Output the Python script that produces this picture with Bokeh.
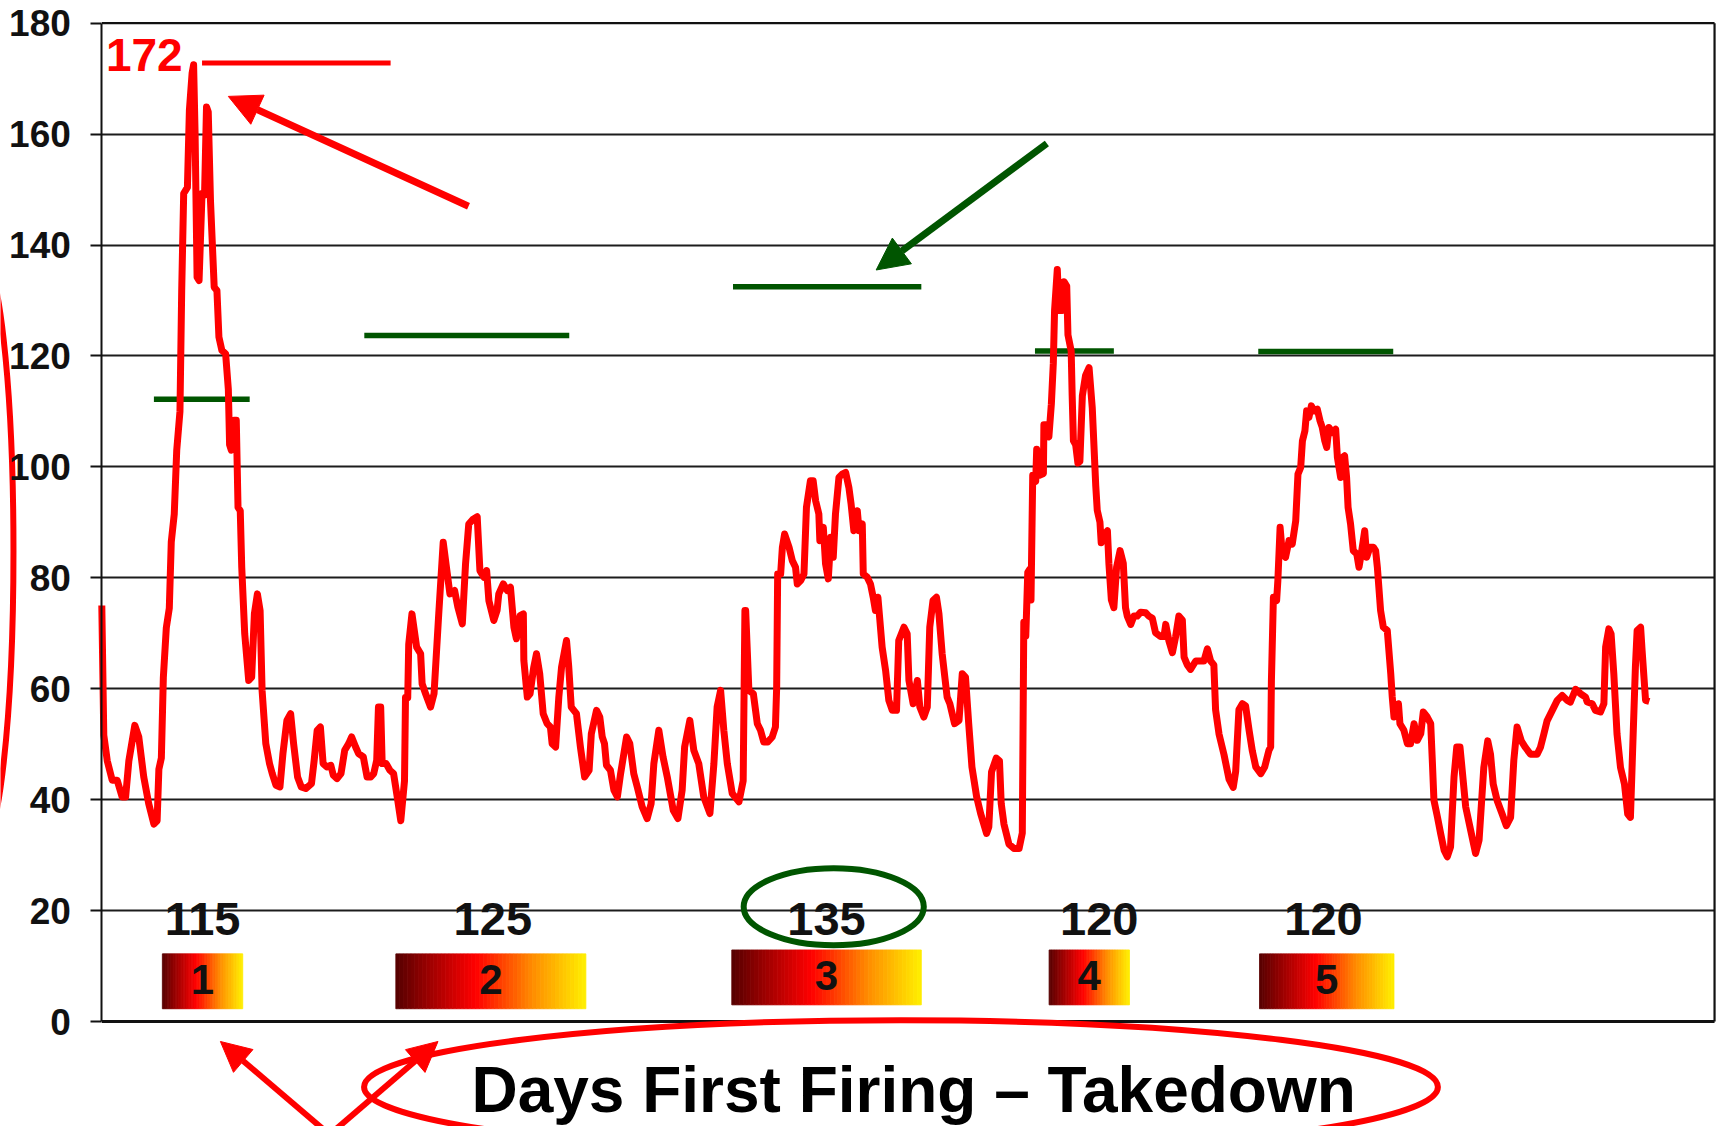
import numpy as np
from bokeh.plotting import figure
from bokeh.models import Range1d, FixedTicker, LinearAxis, Grid, Arrow, NormalHead
from bokeh.core.properties import value
from bokeh.embed import file_html
from bokeh.resources import INLINE

# ---------------- data ----------------
day = [0.0, 0.8, 2.2, 4.2, 6.2, 8.2, 9.6, 10.9, 13.3, 14.9, 16.9, 18.9, 21.0, 22.3, 23.0, 24.0,
       24.8, 26.0, 27.2, 28.0, 29.2, 30.2, 31.5, 32.2, 33.0, 34.5, 35.3, 36.4, 37.0, 37.6, 38.4,
       39.2, 40.4, 41.4, 42.2, 42.9, 43.8, 45.3, 46.4, 47.2, 48.4, 49.9, 51.0, 51.5, 52.2, 53.3,
       54.2, 54.9, 55.8, 56.4, 57.6, 59.2, 60.4, 61.5, 62.7, 63.8, 64.6, 66.1, 67.6, 68.7, 70.2,
       71.8, 73.0, 74.6, 76.1, 77.3, 78.9, 80.4, 82.2, 84.5, 85.6, 86.8, 88.1, 89.2, 90.7, 92.3,
       93.3, 94.8, 96.4, 97.9, 99.5, 100.7, 102.3, 103.5, 105.4, 106.9, 108.4, 109.6, 110.8, 111.5,
       112.4, 113.0, 114.6, 116.1, 117.6, 119.1, 120.5, 122.0, 122.4, 123.3, 123.7, 125.0, 126.9,
       128.5, 129.1, 130.5, 132.5, 133.9, 135.8, 137.6, 138.9, 140.3, 142.2, 143.5, 145.3, 146.6,
       147.9, 149.5, 151.3, 152.4, 154.0, 155.1, 156.0, 158.0, 159.3, 160.0, 161.8, 163.4, 164.7,
       166.1, 167.1, 168.6, 169.9, 170.1, 171.5, 172.6, 174.1, 175.2, 176.5, 177.9, 179.5, 180.8,
       181.5, 182.9, 184.2, 185.3, 187.3, 188.2, 189.2, 191.3, 192.9, 194.6, 196.4, 197.3, 199.4,
       200.7, 201.7, 202.6, 203.4, 205.0, 206.4, 207.8, 209.1, 211.5, 212.8, 214.4, 215.8, 217.8,
       219.8, 221.4, 222.5, 224.5, 226.2, 227.9, 230.3, 232.2, 233.9, 234.9, 237.0, 238.6, 240.6,
       242.6, 245.1, 246.7, 248.0, 249.4, 250.7, 252.1, 254.1, 256.8, 258.5, 259.2, 259.5, 260.8,
       262.6, 264.2, 265.5, 266.8, 268.4, 270.2, 271.5, 272.0, 272.4, 273.6, 274.3, 275.2, 277.0,
       278.3, 279.6, 280.3, 281.7, 283.0, 284.0, 285.6, 286.7, 287.7, 289.0, 289.4, 290.8, 291.7,
       292.8, 293.8, 294.8, 295.7, 297.1, 298.4, 299.8, 301.1, 302.0, 303.1, 304.5, 305.2, 306.5,
       306.9, 308.5, 309.8, 310.9, 311.8, 312.8, 313.6, 314.5, 315.9, 317.2, 318.6, 320.3, 321.2,
       323.3, 324.6, 325.3, 327.0, 328.7, 329.7, 331.3, 332.7, 333.7, 335.0, 336.4, 337.4, 338.7,
       340.7, 341.8, 343.7, 345.5, 346.8, 348.1, 349.4, 350.7, 352.6, 354.2, 356.6, 357.5, 358.6,
       360.5, 361.8, 362.5, 363.6, 365.6, 367.6, 369.7, 371.0, 371.6, 372.4, 373.2, 373.9, 374.5,
       375.2, 376.4, 376.8, 378.1, 379.5, 379.7, 380.8, 381.7, 382.7, 383.5, 384.0, 385.1, 385.8,
       387.1, 387.8, 388.9, 389.4, 390.7, 391.1, 391.6, 392.5, 393.4, 394.2, 395.2, 396.5, 397.9,
       399.2, 400.6, 401.2, 402.3, 402.8, 404.2, 405.3, 405.9, 406.9, 407.9, 409.0, 410.4, 411.7,
       412.6, 413.3, 414.7, 416.0, 417.3, 418.7, 420.7, 422.0, 423.4, 424.7, 426.7, 428.1, 428.8,
       430.1, 431.5, 432.8, 434.1, 435.5, 436.2, 437.5, 438.8, 440.9, 442.9, 444.2, 445.6, 446.9,
       448.2, 448.9, 450.3, 452.3, 454.3, 456.0, 457.0, 458.3, 459.7, 461.0, 462.4, 463.7, 465.1,
       467.1, 468.7, 470.4, 471.1, 471.4, 472.2, 473.5, 474.0, 474.9, 475.8, 477.1, 478.5, 479.8,
       481.2, 482.1, 483.2, 483.9, 484.9, 485.6, 486.5, 487.5, 488.6, 489.9, 491.0, 491.9, 492.9,
       493.7, 494.6, 496.0, 497.3, 498.0, 499.3, 500.0, 500.9, 501.7, 502.3, 503.3, 504.4, 505.8,
       506.7, 507.6, 509.0, 509.8, 511.1, 512.5, 513.4, 514.1, 515.4, 516.5, 518.1, 519.5, 520.1,
       520.8, 521.5, 522.6, 523.2, 524.8, 526.2, 527.5, 528.9, 530.2, 531.6, 532.6, 534.2, 535.6,
       536.3, 536.9, 538.3, 539.6, 541.0, 542.3, 543.6, 545.0, 546.1, 547.4, 548.3, 549.7, 551.7,
       553.7, 555.1, 557.0, 558.6, 559.7, 560.8, 562.4, 564.4, 566.1, 567.8, 569.1, 570.4, 572.1,
       573.8, 575.8, 578.5, 579.8, 581.2, 582.5, 584.5, 586.6, 588.6, 590.6, 591.9, 594.0, 596.0,
       598.0, 598.7, 600.7, 602.0, 604.0, 605.4, 606.1, 607.4, 608.3, 609.4, 610.7, 612.1, 613.7,
       615.0, 616.1, 617.2, 618.1, 618.8, 620.2, 620.8, 622.2, 623.7]
level = [75.0, 51.6, 47.0, 43.5, 43.5, 40.5, 40.5, 47.0, 53.4, 51.3, 44.1, 39.3, 35.6, 36.2, 45.5, 47.5,
         62.0, 71.0, 74.5, 86.5, 91.5, 103.0, 110.0, 131.8, 149.3, 150.4, 164.3, 171.0, 172.5, 160.0, 134.2,
         133.6, 149.3, 149.0, 164.9, 164.0, 148.0, 132.4, 131.8, 123.4, 121.0, 120.4, 114.0, 104.0, 103.0, 108.4,
         108.4, 92.7, 92.1, 81.9, 69.9, 61.5, 62.1, 73.5, 77.1, 74.1, 59.7, 50.1, 46.5, 44.7, 42.6,
         42.3, 48.3, 54.3, 55.5, 50.1, 44.1, 42.3, 42.0, 42.9, 47.1, 52.5, 53.1, 46.5, 45.9, 46.2,
         44.4, 43.8, 44.7, 48.9, 50.1, 51.3, 49.5, 48.3, 47.7, 44.1, 44.1, 44.7, 47.1, 56.7,
         56.7, 46.5, 46.5, 45.3, 44.7, 40.4, 36.2, 43.4, 58.4, 58.4, 68.0, 73.5, 67.5,
         66.3, 60.9, 59.1, 56.7, 59.1, 73.5, 86.4, 81.9, 77.1, 77.7, 74.7, 71.7, 82.5,
         89.7, 90.5, 91.0, 81.3, 80.1, 81.3, 75.9, 72.3, 74.1, 77.1, 78.9, 77.7, 78.3,
         71.1, 69.0, 73.2, 73.5, 65.1, 58.5, 59.1, 63.9, 66.3, 62.7, 55.5, 53.7, 53.1,
         50.1, 49.5, 58.5, 63.9, 68.7, 63.9, 56.7, 55.5, 49.5, 44.1, 45.3, 51.9, 56.1,
         54.9, 51.3, 50.1, 46.2, 45.3, 41.7, 40.5, 44.7, 51.3, 50.1, 44.7, 42.3, 38.7,
         36.6, 39.3, 46.5, 52.5, 47.7, 44.1, 38.1, 36.6, 41.7, 49.5, 54.3, 48.9, 46.5,
         40.5, 37.5, 46.5, 56.7, 59.7, 52.5, 46.5, 41.1, 39.6, 43.4, 74.1, 74.1, 59.7,
         59.1, 53.7, 52.5, 50.4, 50.4, 51.3, 53.1, 60.3, 80.7, 80.7, 85.5, 87.9, 85.5,
         83.1, 81.9, 78.9, 79.5, 80.7, 92.7, 97.5, 97.5, 93.9, 91.5, 86.7, 89.1, 82.5,
         79.8, 87.3, 83.7, 91.5, 98.1, 98.7, 99.0, 96.3, 93.3, 88.5, 92.1, 88.5, 89.7,
         80.7, 80.1, 78.9, 76.5, 74.1, 76.5, 72.3, 67.5, 63.3, 57.9, 56.1, 56.1, 68.7,
         71.1, 69.9, 61.5, 57.3, 61.5, 56.7, 54.9, 56.7, 71.1, 75.9, 76.5, 73.5, 66.3,
         58.5, 57.3, 53.7, 54.3, 62.7, 62.1, 53.7, 45.9, 40.5, 37.5, 33.9, 35.1, 45.0,
         47.5, 47.0, 39.3, 35.6, 32.0, 31.2, 31.2, 34.0, 72.0, 69.5, 81.0, 81.5, 76.0,
         98.5, 97.4, 103.2, 98.5, 98.8, 107.6, 107.6, 105.4, 111.3, 118.7, 128.2, 135.6, 128.2,
         128.2, 133.4, 132.6, 123.8, 120.9, 112.8, 104.7, 104.0, 100.7, 101.0, 112.8, 116.5, 117.9,
         110.6, 96.6, 92.2, 90.0, 86.3, 87.8, 88.5, 82.6, 76.0, 74.6, 81.9, 84.9, 82.6,
         74.6, 73.1, 71.6, 73.1, 73.1, 73.8, 73.7, 73.1, 72.7, 70.1, 69.4, 69.4, 71.6,
         68.6, 66.5, 69.4, 73.1, 72.4, 65.7, 64.3, 63.5, 65.0, 65.0, 65.0, 67.2, 65.0,
         64.3, 56.2, 51.8, 48.1, 43.7, 42.2, 45.1, 56.2, 57.3, 56.9, 52.5, 48.8, 45.9,
         44.7, 45.9, 48.9, 49.5, 61.5, 76.5, 75.9, 79.5, 89.1, 84.3, 83.7, 86.7, 86.1,
         90.3, 98.7, 99.9, 104.7, 106.5, 110.1, 108.9, 111.0, 110.1, 110.4, 108.3, 107.1, 104.7,
         103.5, 107.1, 106.2, 106.8, 101.7, 98.1, 101.7, 102.0, 98.1, 92.7, 89.7, 84.9, 84.3,
         81.9, 84.3, 88.5, 83.7, 85.5, 85.5, 84.9, 81.9, 74.1, 71.1, 70.5, 62.7, 58.5,
         54.9, 55.5, 57.3, 53.7, 52.5, 50.1, 50.1, 53.7, 50.7, 51.9, 55.8, 54.9, 53.7,
         46.5, 39.9, 36.9, 33.9, 30.9, 29.7, 31.5, 44.1, 49.5, 49.5, 45.3, 38.7, 34.5,
         30.3, 32.7, 45.8, 50.6, 48.2, 42.8, 39.8, 37.4, 35.3, 36.8, 47.1, 53.1, 50.6,
         49.4, 48.2, 48.2, 49.4, 51.8, 54.2, 56.0, 57.9, 58.8, 57.9, 57.6, 59.9, 59.1,
         58.5, 57.6, 57.3, 56.1, 55.8, 57.3, 67.5, 70.8, 69.9, 62.7, 51.8, 45.8, 42.8,
         37.4, 36.8, 51.8, 63.9, 70.5, 71.1, 66.9, 57.9, 57.7]

session_number = ["1", "2", "3", "4", "5"]
days_first_firing_to_takedown = ["115", "125", "135", "120", "120"]
session_start = [24.4, 118.5, 253.9, 381.8, 466.6]
session_end = [56.8, 195.1, 330.3, 414.2, 520.8]
threshold_level = [112.2, 123.7, 132.5, 120.9, 120.8]
threshold_start = [21.0, 105.8, 254.4, 376.1, 466.1]
threshold_end = [59.6, 188.4, 330.3, 407.9, 520.5]
peak_label = "172"
peak_level = 172.8
y_ticks = [0, 20, 40, 60, 80, 100, 120, 140, 160, 180]

# ---------------- layout / style constants ----------------
X_END = 650.0
Y_TOP = 180.0
FONT = value("Liberation Sans")
RED = "#ff0000"
GREEN = "#005500"
INK = "#111111"
label_dx = [0.0, 0.8, 0.0, 4.0, -1.3]

p = figure(width=1720, height=1126, output_backend="svg", toolbar_location=None,
           x_range=Range1d(-40.83, 652.40), y_range=Range1d(-18.93, 184.09),
           x_axis_location=None, y_axis_location=None,
           min_border=0, min_border_left=0, min_border_right=0, min_border_top=0, min_border_bottom=0)
p.outline_line_color = None
p.background_fill_color = "white"
p.border_fill_color = "white"
for g in list(p.grid):
    g.visible = False

# horizontal grid lines (within the plot box)
grid = Grid(dimension=1, ticker=FixedTicker(ticks=y_ticks[1:-1]),
            grid_line_color="#1c1c1c", grid_line_width=2)
grid.cross_bounds = (0, X_END)
p.add_layout(grid)

# y axis fixed at day 0
yaxis = LinearAxis(fixed_location=0, ticker=FixedTicker(ticks=y_ticks), bounds=(0, Y_TOP))
yaxis.axis_line_color = INK
yaxis.axis_line_width = 2
yaxis.major_tick_out = 11
yaxis.major_tick_in = 0
yaxis.major_tick_line_width = 2
yaxis.major_tick_line_color = INK
yaxis.minor_tick_out = 0
yaxis.minor_tick_in = 0
yaxis.major_label_text_font = "Liberation Sans"
yaxis.major_label_text_font_style = "bold"
yaxis.major_label_text_font_size = "37px"
yaxis.major_label_text_color = INK
yaxis.major_label_standoff = 20
p.add_layout(yaxis, "left")

# plot box: top, right, bottom (x axis)
p.segment(x0=[0, X_END], y0=[Y_TOP, 0], x1=[X_END, X_END], y1=[Y_TOP, Y_TOP],
          line_color=INK, line_width=2.2)
p.segment(x0=[0], y0=[0], x1=[X_END], y1=[0], line_color=INK, line_width=3)

# gradient boxes for sessions
stops = [(0.0, (85, 0, 0)), (0.42, (255, 0, 0)), (0.72, (255, 140, 0)), (1.0, (255, 240, 0))]
def grad(t):
    for (t0, c0), (t1, c1) in zip(stops[:-1], stops[1:]):
        if t <= t1:
            f = (t - t0) / (t1 - t0)
            return "#%02x%02x%02x" % tuple(int(round(a + (b - a) * f)) for a, b in zip(c0, c1))
    return "#%02x%02x%02x" % stops[-1][1]

box_bottom = [2.3, 2.3, 3.0, 3.0, 2.3]
box_top = [12.2, 12.2, 12.9, 12.9, 12.2]
NSL = 50
ql, qr, qb, qt, qc = [], [], [], [], []
for s, e, b, t in zip(session_start, session_end, box_bottom, box_top):
    edges = np.linspace(s, e, NSL + 1)
    for k in range(NSL):
        ql.append(edges[k]); qr.append(edges[k + 1]); qb.append(b); qt.append(t)
        qc.append(grad((k + 0.5) / NSL))
p.quad(left=ql, right=qr, bottom=qb, top=qt, fill_color=qc, line_color=qc, line_width=0.8)

centers = [(s + e) / 2 for s, e in zip(session_start, session_end)]
p.text(x=centers, y=[(b + t) / 2 + 0.4 for b, t in zip(box_bottom, box_top)], text=session_number,
       text_font=FONT, text_font_style="bold", text_font_size="42px", text_color=INK,
       text_align="center", text_baseline="middle")
p.text(x=[c + d for c, d in zip(centers, label_dx)], y=[18.5] * 5, text=days_first_firing_to_takedown,
       text_font=FONT, text_font_style="bold", text_font_size="47px", text_color=INK,
       text_align="center", text_baseline="middle")

# threshold (green) lines
p.segment(x0=threshold_start, y0=threshold_level, x1=threshold_end, y1=threshold_level,
          line_color=GREEN, line_width=5.5)

# the series
p.line(day, level, line_color=RED, line_width=7, line_join="round")

# peak annotation
p.segment(x0=[40.4], y0=[peak_level], x1=[116.4], y1=[peak_level], line_color=RED, line_width=5)
p.text(x=[32.6], y=[174.2], text=[peak_label], text_font=FONT, text_font_style="bold",
       text_font_size="46px", text_color=RED, text_align="right", text_baseline="middle")
p.add_layout(Arrow(end=NormalHead(size=32, fill_color=RED, line_color=RED),
                   x_start=147.8, y_start=147.0, x_end=51.0, y_end=166.8,
                   line_color=RED, line_width=7))

# green arrow to threshold 3
p.add_layout(Arrow(end=NormalHead(size=32, fill_color=GREEN, line_color=GREEN),
                   x_start=380.9, y_start=158.3, x_end=312.1, y_end=135.5,
                   line_color=GREEN, line_width=7))

# green ellipse around 135
p.ellipse(x=[295.0], y=[20.7], width=[72.6], height=[13.9], fill_color=None,
          line_color=GREEN, line_width=6)

# bottom caption with red ellipse and arrows
p.text(x=[327.2], y=[-12.3], text=["Days First Firing \u2013 Takedown"], text_font=FONT,
       text_font_style="bold", text_font_size="64px", text_color="black",
       text_align="center", text_baseline="middle")
p.ellipse(x=[322.1], y=[-11.8], width=[432.8], height=[24.05], fill_color=None,
          line_color=RED, line_width=6)
for tx in (47.8, 135.5):
    p.add_layout(Arrow(end=NormalHead(size=30, fill_color=RED, line_color=RED),
                       x_start=91.8, y_start=-20.4, x_end=tx, y_end=-3.6,
                       line_color=RED, line_width=6))

# partial red ellipse at the left edge
p.ellipse(x=[-49.1], y=[84.8], width=[27.0], height=[108.0], fill_color=None,
          line_color=RED, line_width=6)

open("out.html", "w").write(file_html(p, INLINE))
